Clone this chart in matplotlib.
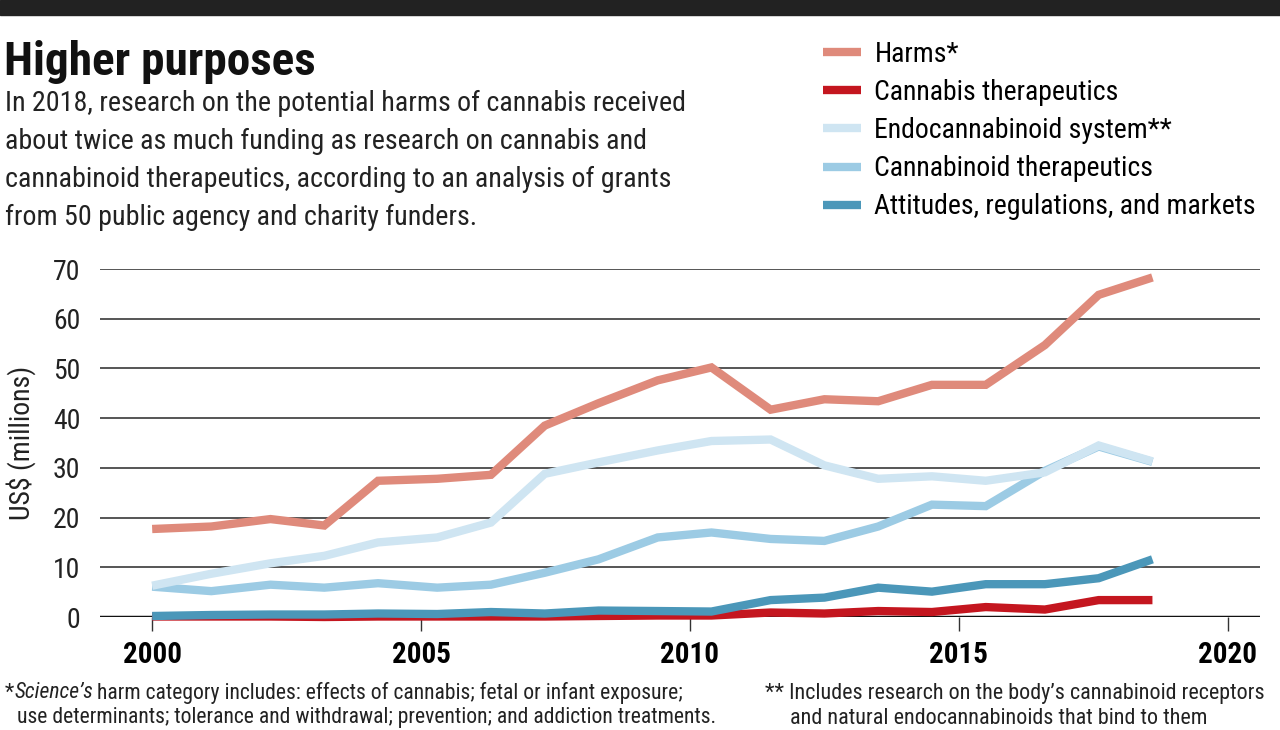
import matplotlib
matplotlib.use("Agg")
import matplotlib.pyplot as plt
from matplotlib import font_manager as fm

# police étroite : la première disponible
installed = {f.name for f in fm.fontManager.ttflist}
narrow = "DejaVu Sans"
for cand in ["Roboto Condensed", "Barlow Semi Condensed", "IBM Plex Sans Condensed",
             "Open Sans Condensed", "Liberation Sans Narrow"]:
    if cand in installed:
        narrow = cand
        break
plt.rcParams["font.family"] = [narrow, "DejaVu Sans"]

# Données (US$ millions)
years = [2000, 2001.1, 2002.2, 2003.2, 2004.2, 2005.3, 2006.3, 2007.3, 2008.3, 2009.4,
         2010.4, 2011.5, 2012.5, 2013.5, 2014.5, 2015.5, 2016.6, 2017.6, 2018.6]
harms = [17.7, 18.2, 19.7, 18.4, 27.4, 27.8, 28.6, 38.5, 43.0, 47.6,
         50.2, 41.7, 43.8, 43.4, 46.7, 46.7, 54.7, 64.8, 68.3]
cannabis_ther = [0.1, 0.1, 0.1, 0.0, 0.1, 0.1, 0.1, 0.1, 0.2, 0.3,
                 0.3, 0.9, 0.7, 1.2, 1.0, 2.0, 1.5, 3.4, 3.4]
endo = [6.3, 8.7, 10.8, 12.3, 15.0, 16.0, 19.0, 28.8, 31.1, 33.5,
        35.4, 35.7, 30.5, 27.8, 28.3, 27.4, 29.1, 34.5, 31.3]
cannabinoid_ther = [6.1, 5.2, 6.5, 5.9, 6.8, 5.9, 6.5, 8.9, 11.6, 16.0,
                    17.0, 15.7, 15.3, 18.2, 22.6, 22.3, 29.4, 34.3, 31.2]
attitudes = [0.2, 0.4, 0.5, 0.5, 0.7, 0.6, 1.0, 0.7, 1.3, 1.2,
             1.1, 3.4, 3.9, 5.9, 5.1, 6.6, 6.6, 7.8, 11.6]

series = [
    ("Harms*", harms, "#df8a7b", 3),
    ("Cannabis therapeutics", cannabis_ther, "#c4161f", 5),
    ("Endocannabinoid system**", endo, "#cfe5f2", 4),
    ("Cannabinoid therapeutics", cannabinoid_ther, "#9ccbe4", 3.5),
    ("Attitudes, regulations, and markets", attitudes, "#4b97b9", 6),
]
yticks = [0, 10, 20, 30, 40, 50, 60, 70]
xticks = [2000, 2005, 2010, 2015, 2020]

fig = plt.figure(figsize=(12.8, 7.3), dpi=100)
fig.patches.append(plt.Rectangle((0, 1 - 15 / 730), 1, 15 / 730, transform=fig.transFigure,
                                 color="#222222", zorder=0))

ax = fig.add_axes([100 / 1280, 113 / 730, 1160 / 1280, 348 / 730])
handles = []
for name, vals, col, z in series:
    h, = ax.plot(years, vals, color=col, lw=6, solid_capstyle="butt",
                 solid_joinstyle="miter", clip_on=False, zorder=z, label=name)
    handles.append(h)

ax.set_xlim(1999.03, 2020.6)
ax.set_ylim(0, 70)
ax.set_yticks(yticks)
ax.set_xticks(xticks)
ax.grid(axis="y", color="#555555", lw=1.4, zorder=1)
ax.axhline(0, color="#111111", lw=2.5, zorder=2)
for s in ax.spines.values():
    s.set_visible(False)
ax.tick_params(axis="y", length=0, labelsize=20, pad=14, labelcolor="#222222")
ax.tick_params(axis="x", length=10, width=1, color="#333333", labelsize=21, pad=7)
for lab in ax.get_xticklabels():
    lab.set_fontweight("bold")
ax.set_ylabel("US$ (millions)", fontsize=20, labelpad=12, color="#222222")

fig.text(4 / 1280, 1 - 62 / 730, "Higher purposes", fontsize=34, fontweight="bold",
         va="center", ha="left", color="#111111")
fig.text(5 / 1280, 1 - 90 / 730,
         "In 2018, research on the potential harms of cannabis received\n"
         "about twice as much funding as research on cannabis and\n"
         "cannabinoid therapeutics, according to an analysis of grants\n"
         "from 50 public agency and charity funders.",
         fontsize=20.2, va="top", ha="left", linespacing=1.52, color="#222222")

fig.legend(handles=handles, loc="upper left", bbox_to_anchor=(823 / 1280, 1 - 41 / 730),
           frameon=False, fontsize=20, handlelength=1.35, handletextpad=0.5,
           labelspacing=0.4, borderaxespad=0, borderpad=0)

# notes de bas de page
fig.canvas.draw()
r = fig.canvas.get_renderer()
fs = 15.6
y1 = 1 - 693 / 730
y2 = 1 - 718 / 730
t0 = fig.text(5 / 1280, y1, "*", fontsize=fs, va="center", color="#222222")
bb = t0.get_window_extent(r)
t1 = fig.text(bb.x1 / 1280, y1, "Science\u2019s", fontsize=fs, style="italic",
              va="center", color="#222222")
bb = t1.get_window_extent(r)
fig.text((bb.x1 + 4) / 1280, y1,
         "harm category includes: effects of cannabis; fetal or infant exposure;",
         fontsize=fs, va="center", color="#222222")
fig.text(17 / 1280, y2,
         "use determinants; tolerance and withdrawal; prevention; and addiction treatments.",
         fontsize=fs, va="center", color="#222222")
fig.text(765 / 1280, y1, "** Includes research on the body\u2019s cannabinoid receptors",
         fontsize=15.9, va="center", color="#222222")
fig.text(790 / 1280, y2, "and natural endocannabinoids that bind to them",
         fontsize=15.9, va="center", color="#222222")

fig.savefig("out.png", dpi=100)
